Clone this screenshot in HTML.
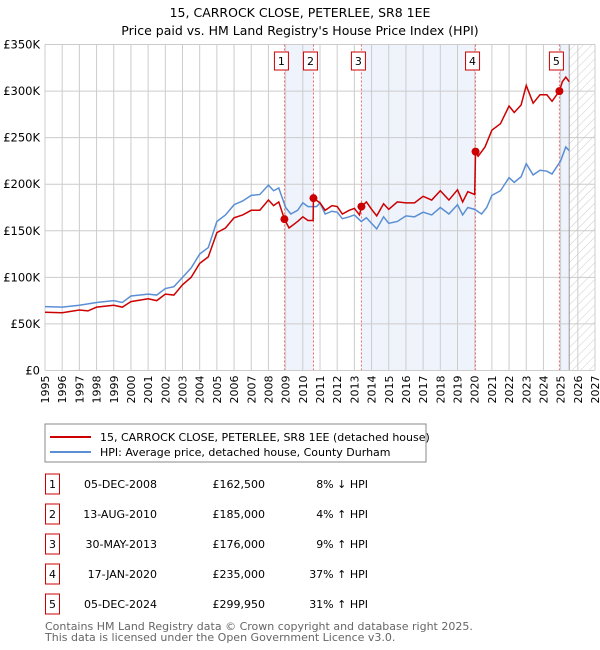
<!DOCTYPE html>
<html><head><meta charset="utf-8"><style>
body{margin:0;background:#fff;font-family:"Liberation Sans","DejaVu Sans",sans-serif;}
svg{display:block}
</style></head><body>
<svg id="chart" width="600" height="650" xmlns="http://www.w3.org/2000/svg" font-family="DejaVu Sans, Liberation Sans, sans-serif">
<defs><pattern id="hatch" width="6" height="6" patternUnits="userSpaceOnUse" patternTransform="rotate(45)"><line x1="0" y1="0" x2="0" y2="6" stroke="#ccc" stroke-width="1"/></pattern></defs>
<text x="300" y="17" text-anchor="middle" font-size="12.5" fill="#000">15, CARROCK CLOSE, PETERLEE, SR8 1EE</text>
<text x="300" y="35" text-anchor="middle" font-size="12.5" fill="#000">Price paid vs. HM Land Registry's House Price Index (HPI)</text>
<g id="plot"></g>
<rect x="45" y="424" width="381" height="38" fill="#fff" stroke="#888"/>
<line x1="50" y1="437" x2="91" y2="437" stroke="#cc0000" stroke-width="2"/>
<text x="100" y="441" font-size="11">15, CARROCK CLOSE, PETERLEE, SR8 1EE (detached house)</text>
<line x1="50" y1="452" x2="91" y2="452" stroke="#5b8fd4" stroke-width="2"/>
<text x="100" y="456" font-size="11">HPI: Average price, detached house, County Durham</text>
<g id="table" font-size="11"></g>
<text x="45" y="630" font-size="11" fill="#666">Contains HM Land Registry data © Crown copyright and database right 2025.</text>
<text x="45" y="641" font-size="11" fill="#666">This data is licensed under the Open Government Licence v3.0.</text>
</svg>
<script>
const hpiYears=[1995,1996,1997,1998,1999,1999.5,2000,2001,2001.5,2002,2002.5,2003,2003.5,2004,2004.5,2005,2005.5,2006,2006.5,2007,2007.5,2008,2008.3,2008.6,2009,2009.3,2009.7,2010,2010.3,2010.8,2011,2011.3,2011.7,2012,2012.3,2012.7,2013,2013.4,2013.7,2014,2014.3,2014.7,2015,2015.5,2016,2016.5,2017,2017.5,2018,2018.5,2019,2019.3,2019.6,2020,2020.4,2020.7,2021,2021.5,2022,2022.3,2022.7,2023,2023.4,2023.8,2024.2,2024.5,2025,2025.3,2025.5];
const hpiValues=[68.6,68,70,73,75,73,80,82,81,88,90,100,110,125,132,160,167,178,182,188,189,199,193,196,175,168,172,180,176,176,180,168,171,170,163,165,167,160,164,158,152,165,158,160,166,165,170,167,175,168,178,167,175,173,168,175,188,193,207,202,208,222,210,215,214,211,225,240,236];
const propYears=[1995,1996,1997,1997.5,1998,1999,1999.5,2000,2001,2001.5,2002,2002.5,2003,2003.5,2004,2004.5,2005,2005.5,2006,2006.5,2007,2007.5,2008,2008.3,2008.6,2008.93,2009.2,2009.7,2010,2010.3,2010.6,2010.62,2011,2011.3,2011.7,2012,2012.3,2012.7,2013,2013.3,2013.41,2013.7,2014,2014.3,2014.7,2015,2015.5,2016,2016.5,2017,2017.5,2018,2018.5,2019,2019.3,2019.6,2020,2020.05,2020.2,2020.6,2021,2021.5,2022,2022.3,2022.7,2023,2023.4,2023.8,2024.2,2024.5,2024.93,2025.1,2025.3,2025.5];
const propValues=[62.5,62,65,64,68,70,68,74,77,75,82,81,92,100,115,122,148,153,164,167,172,172,183,177,181,162.5,153,160,165,161,161,185,180,172,177,176,168,172,174,167,176,181,173,166,179,173,181,180,180,187,183,193,183,194,181,192,189,235,230,240,258,265,284,277,285,306,287,296,296,289,300,310,315,310];
const saleYears=[2008.93,2010.62,2013.41,2020.05,2024.93];
const salePrices=[162.5,185,176,235,299.95];
const saleLabels=["1","2","3","4","5"];
const saleDates=["05-DEC-2008","13-AUG-2010","30-MAY-2013","17-JAN-2020","05-DEC-2024"];
const salePriceText=["£162,500","£185,000","£176,000","£235,000","£299,950"];
const saleHpiText=["8% ↓ HPI","4% ↑ HPI","9% ↑ HPI","37% ↑ HPI","31% ↑ HPI"];
const yTicks=[0,50,100,150,200,250,300,350];
const yTickLabels=["£0","£50K","£100K","£150K","£200K","£250K","£300K","£350K"];
const dataEnd=2025.5;

const NS="http://www.w3.org/2000/svg";
const X0=45,X1=595,Y0=370.5,Y1=44.5;
const xs=y=>X0+(y-1995)*(X1-X0)/32;
const ys=v=>Y0-v*(Y0-Y1)/350;
function mk(tag,attrs,parent){const e=document.createElementNS(NS,tag);for(const k in attrs)e.setAttribute(k,attrs[k]);parent.appendChild(e);return e;}
const plot=document.getElementById('plot');
[[0,1],[2,3]].forEach((p,i)=>{
  const r=mk('rect',{x:xs(saleYears[p[0]]),y:Y1,width:xs(saleYears[p[1]])-xs(saleYears[p[0]]),height:Y0-Y1,fill:'#eef3fc'},plot);
  
  
});
const r5=mk('rect',{x:xs(saleYears[4]),y:Y1,width:xs(dataEnd)-xs(saleYears[4]),height:Y0-Y1,fill:'#eef3fc'},plot);


const hr=mk('rect',{x:xs(dataEnd),y:Y1,width:X1-xs(dataEnd),height:Y0-Y1,fill:'url(#hatch)'},plot);


for(let yr=1995;yr<=2027;yr++){
  const l=mk('line',{x1:xs(yr),x2:xs(yr),y1:Y1,y2:Y0,stroke:'#ccc','stroke-width':1},plot);
  
  
  const t=mk('text',{x:0,y:0,'font-size':11,'text-anchor':'end',transform:`translate(${xs(yr)+4},${Y0+5}) rotate(-90)`},plot);
  t.textContent=yr;
  
  
}
yTicks.forEach((v,i)=>{
  const l=mk('line',{x1:X0,x2:X1,y1:ys(v),y2:ys(v),stroke:'#ccc','stroke-width':1},plot);
  
  
  const t=mk('text',{x:X0-5,y:ys(v)+4,'font-size':11.5,'text-anchor':'end'},plot);
  t.textContent=yTickLabels[i];
  
  
});
const dl=mk('line',{x1:xs(dataEnd),x2:xs(dataEnd),y1:Y1,y2:Y0,stroke:'#999','stroke-width':1},plot);


saleYears.forEach((s,i)=>{
  const l=mk('line',{x1:xs(s),x2:xs(s),y1:Y1,y2:Y0,stroke:'#e66','stroke-width':1,'stroke-dasharray':'2,2'},plot);
  
  
});
const hp=mk('polyline',{points:hpiYears.map((y,i)=>xs(y)+','+ys(hpiValues[i])).join(' '),fill:'none',stroke:'#5b8fd4','stroke-width':1.5},plot);


const pp=mk('polyline',{points:propYears.map((y,i)=>xs(y)+','+ys(propValues[i])).join(' '),fill:'none',stroke:'#cc0000','stroke-width':1.5},plot);


saleYears.forEach((s,i)=>{
  const c=mk('circle',{cx:xs(s),cy:ys(salePrices[i]),r:4,fill:'#cc0000'},plot);
  
  
  const g=mk('g',{},plot);
  
  
  mk('rect',{x:xs(s)-10,y:52,width:14,height:18,fill:'#fff',stroke:'#cc0000'},g);
  const t=mk('text',{x:xs(s)-3,y:65,'font-size':11,'text-anchor':'middle'},g);
  t.textContent=saleLabels[i];
});
const ax=mk('line',{x1:X0,x2:X1,y1:Y0,y2:Y0,stroke:'#ccc'},plot);


const tb=document.getElementById('table');
saleLabels.forEach((lab,i)=>{
  const y=483+i*30;
  const g=mk('g',{},tb);
  
  
  mk('rect',{x:45.5,y:y-9,width:14,height:20,fill:'#fff',stroke:'#cc0000'},g);
  const a=mk('text',{x:52.5,y:y+5,'text-anchor':'middle'},g);a.textContent=lab;
  const b=mk('text',{x:157,y:y+5,'text-anchor':'end'},g);b.textContent=saleDates[i];
  const c=mk('text',{x:265,y:y+5,'text-anchor':'end'},g);c.textContent=salePriceText[i];
  const d=mk('text',{x:368,y:y+5,'text-anchor':'end'},g);d.textContent=saleHpiText[i];
});
</script>
</body></html>
